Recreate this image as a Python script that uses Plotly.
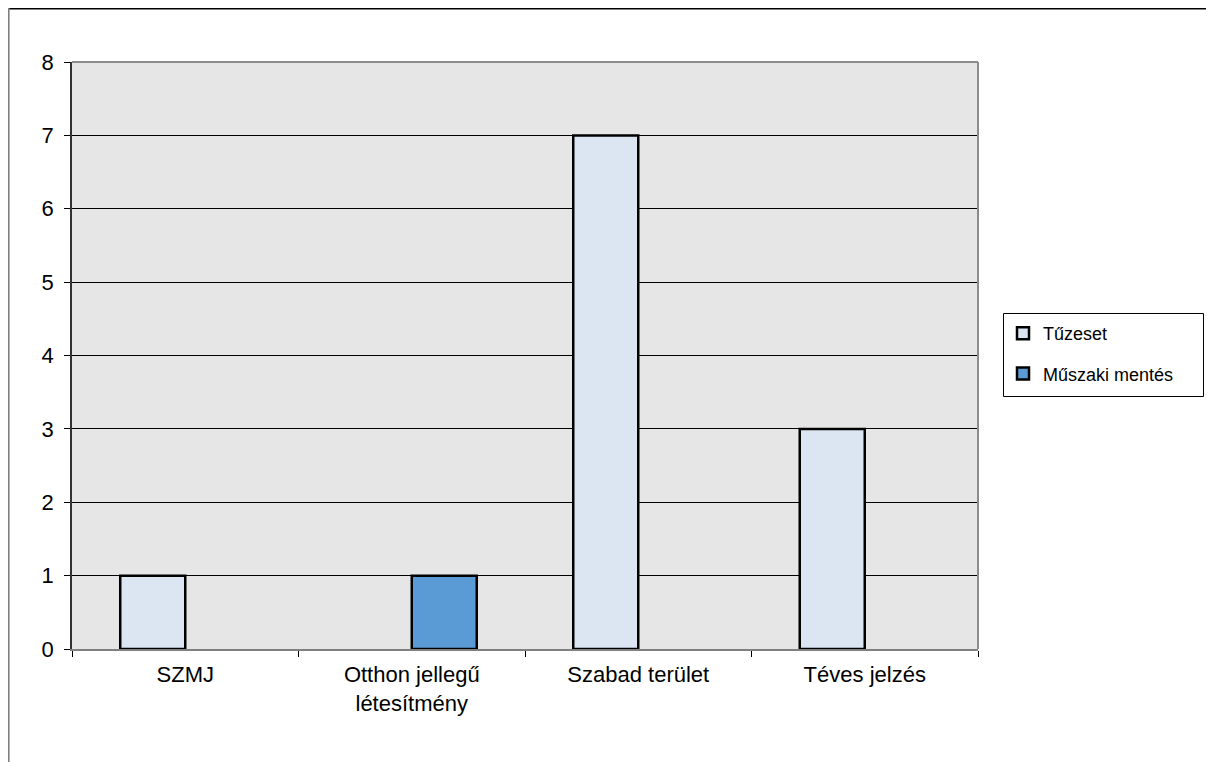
import plotly.graph_objects as go

categories = ["SZMJ", "Otthon jellegű<br>létesítmény", "Szabad terület", "Téves jelzés"]
tuzeset = [1, None, 7, 3]
muszaki = [None, 1, None, None]
series_names = ["Tűzeset", "Műszaki mentés"]
y_ticks = [0, 1, 2, 3, 4, 5, 6, 7, 8]

W, H = 1214, 762
OFF = 8  # page margin offset of the figure in the screenshot
L, R, T, B = 72 - OFF, 978 - OFF, 62 - OFF, 649 - OFF


def px_x(px):
    return (px - OFF - L) / (R - L)


def px_y(py):
    return (B - (py - OFF)) / (B - T)


fig = go.Figure()
fig.add_trace(go.Bar(x=categories, y=tuzeset, name=series_names[0], legendgroup="a",
                     marker=dict(color="#dce6f2", line=dict(color="#000000", width=2.5))))
fig.add_trace(go.Bar(x=categories, y=muszaki, name=series_names[1], legendgroup="b",
                     marker=dict(color="#5b9bd5", line=dict(color="#000000", width=2.5))))

font = dict(family="Liberation Sans, Arial, sans-serif", size=22, color="#000000")

fig.update_layout(
    width=W, height=H,
    margin=dict(l=L, r=W - R, t=T, b=H - B, autoexpand=False),
    paper_bgcolor="#ffffff",
    plot_bgcolor="#e6e6e6",
    barmode="group",
    bargap=0.426,
    bargroupgap=0,
    font=font,
    showlegend=True,
    legend=dict(
        x=px_x(1003), y=px_y(315), xanchor="left", yanchor="top",
        borderwidth=0, bgcolor="rgba(0,0,0,0)",
        font=dict(family="Liberation Sans, Arial, sans-serif", size=18, color="#000000"),
        traceorder="grouped", tracegroupgap=14, itemwidth=30,
    ),
    xaxis=dict(
        tickson="boundaries", ticks="outside", ticklen=6, tickcolor="#000000",
        showline=True, linecolor="#808080", linewidth=1.5,
        showgrid=False, tickfont=font, ticklabelstandoff=5,
    ),
    yaxis=dict(
        range=[0, 8], tickvals=y_ticks, ticks="outside", ticklen=6, tickcolor="#000000",
        showline=True, linecolor="#333333", linewidth=1.5,
        showgrid=True, gridcolor="#000000", gridwidth=1,
        zeroline=False, tickfont=font, ticklabelstandoff=6,
    ),
)

# plot area top & right border (gray)
fig.add_shape(type="line", xref="paper", yref="paper", x0=0, x1=1, y0=1, y1=1,
              line=dict(color="#8c8c8c", width=2), layer="above")
fig.add_shape(type="line", xref="paper", yref="paper", x0=1, x1=1, y0=0, y1=1,
              line=dict(color="#8c8c8c", width=2), layer="above")

# legend frame
fig.add_shape(type="rect", xref="paper", yref="paper",
              x0=px_x(1003.5), x1=px_x(1203.5), y0=px_y(313.5), y1=px_y(396.5),
              line=dict(color="#000000", width=1), fillcolor="#ffffff", layer="below")

# outer chart frame (top & left visible)
fig.add_shape(type="line", xref="paper", yref="paper", x0=px_x(8), x1=px_x(1230),
              y0=px_y(8.8), y1=px_y(8.8), line=dict(color="#000000", width=1.6))
fig.add_shape(type="line", xref="paper", yref="paper", x0=px_x(8.8), x1=px_x(8.8),
              y0=px_y(8), y1=px_y(780), line=dict(color="#808080", width=1.6))

fig.write_html("out.html")
